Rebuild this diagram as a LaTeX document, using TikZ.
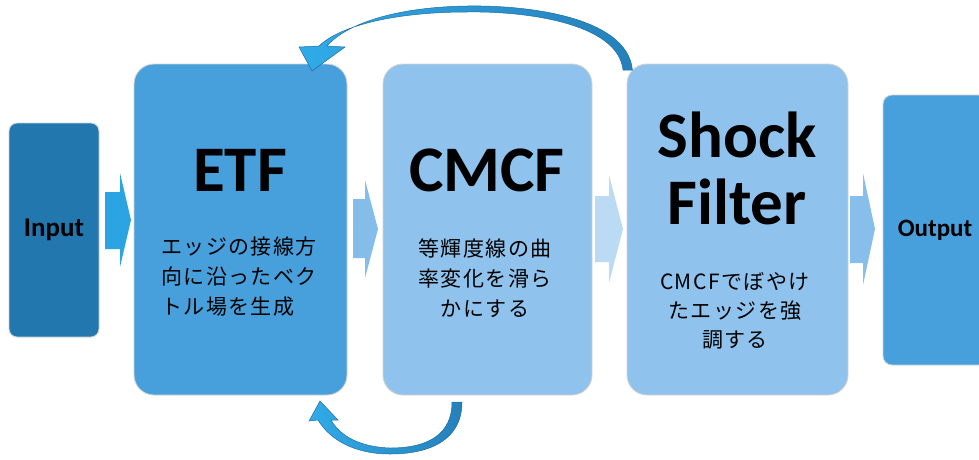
\documentclass[tikz,border=0pt]{standalone}
\usepackage{fontspec}
\setmainfont{Carlito}
\newfontfamily\jp[LetterSpace=7]{Noto Sans CJK JP}
\definecolor{inputc}{HTML}{2177AE}
\definecolor{etfc}{HTML}{47A0DC}
\definecolor{cmcfc}{HTML}{8FC3ED}
\definecolor{shockc}{HTML}{8FC3ED}
\definecolor{outc}{HTML}{47A0DC}
\definecolor{chevA}{HTML}{2CA3E3}
\definecolor{chevB}{HTML}{84BDEA}
\definecolor{chevC}{HTML}{BBDBF5}
\definecolor{chevD}{HTML}{88BFEA}
\definecolor{arrdark}{HTML}{2680BA}
\definecolor{arrlight}{HTML}{30ABE8}
\definecolor{arredge}{HTML}{1F6FA5}
\definecolor{rimc}{HTML}{D2D2D2}
\tikzset{
  box/.style={draw=rimc, line width=0.9pt, inner sep=0pt},
  titletext/.style={font=\bfseries\fontsize{65}{67}\selectfont, align=center, inner sep=0pt},
  desctext/.style={font=\jp\fontsize{21}{30}\selectfont, align=center, inner sep=0pt},
  loopshape/.style={left color=arrlight, right color=arrdark, draw=arredge, line width=0.5pt}
}
\begin{document}
\begin{tikzpicture}[x=1pt,y=-1pt]
\useasboundingbox (0,0) rectangle (979,459);
% boxes
\node[box, fill=inputc, rounded corners=8pt, minimum width=90pt, minimum height=214pt,
      font=\bfseries\fontsize{27}{30}\selectfont] (input) at (54,230) {Input};
\node[box, fill=etfc, rounded corners=20pt, minimum width=213pt, minimum height=331pt] (etf) at (240.5,229.5) {};
\node[box, fill=cmcfc, rounded corners=20pt, minimum width=209pt, minimum height=331pt] (cmcf) at (487.5,229.5) {};
\node[box, fill=shockc, rounded corners=20pt, minimum width=221pt, minimum height=331pt] (shock) at (737.5,229.5) {};
\node[box, fill=outc, rounded corners=9pt, minimum width=104pt, minimum height=270pt,
      font=\bfseries\fontsize{25}{28}\selectfont] (output) at (935,230) {Output};
% texts
\node[titletext] (etft) at (240,170) {ETF};
\node[desctext, align=left] (etfd) at (239,277) {エッジの接線方\\向に沿ったベク\\トル場を生成};
\node[titletext] (cmcft) at (487,170) {CMCF};
\node[desctext] (cmcfd) at (485,278) {等輝度線の曲\\率変化を滑ら\\かにする};
\node[titletext] (shockt) at (737,168.5) {Shock\\Filter};
\node[desctext, font=\jp\fontsize{21}{29}\selectfont] (shockd) at (735,311) {CMCFでぼやけ\\たエッジを強\\調する};
% chevrons
\fill[chevA] (105,192) -- (120,192) -- (120,173) -- (131,220) -- (120,267) -- (120,249) -- (105,249) -- cycle;
\fill[chevB] (353,199) -- (365,199) -- (365,180) -- (378,229) -- (365,278) -- (365,258) -- (353,258) -- cycle;
\fill[chevC] (595,196) -- (609,196) -- (609,175) -- (623,229) -- (609,283) -- (609,262) -- (595,262) -- cycle;
\fill[chevD] (850,196) -- (863,196) -- (863,173) -- (875,229) -- (863,285) -- (863,263) -- (850,263) -- cycle;
% top loop arrow (Shock Filter -> ETF)
\path[loopshape] (632.5,70) .. controls (627,16) and (525,5) .. (467,6)
  .. controls (400,7) and (348,22) .. (327,46)
  -- (345,47) -- (312,71) -- (299,47) -- (319,46)
  .. controls (342,24) and (400,12) .. (467,12)
  .. controls (522,11) and (618,22) .. (623,70) -- cycle;
% bottom loop arrow (CMCF -> ETF)
\path[loopshape] (462,402) .. controls (462,440) and (430,454) .. (390,454)
  .. controls (355,454) and (330,440) .. (318,420)
  -- (309,421) -- (320,401) -- (338,420) -- (331,420)
  .. controls (340,436) and (360,447) .. (390,448)
  .. controls (430,448) and (452,433) .. (452,402) -- cycle;
\end{tikzpicture}
\end{document}
